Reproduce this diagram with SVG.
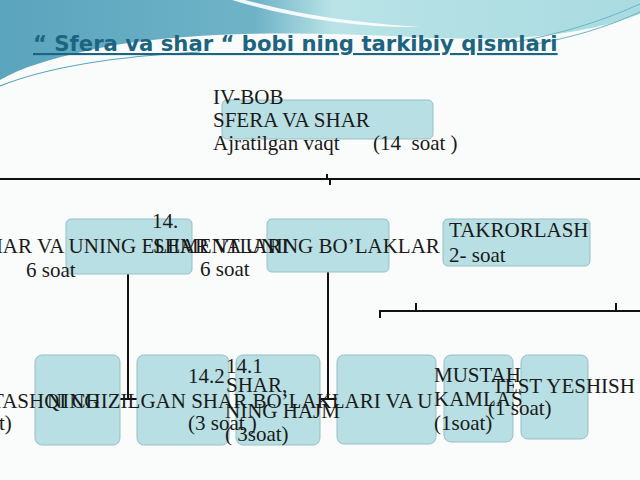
<svg xmlns="http://www.w3.org/2000/svg" width="640" height="480" viewBox="0 0 640 480">
<defs>
<linearGradient id="sky" x1="0" y1="0" x2="1" y2="0">
<stop offset="0" stop-color="#5aa4bd"/>
<stop offset="0.4" stop-color="#6fb3c7"/>
<stop offset="0.52" stop-color="#b9e3e7"/>
<stop offset="1" stop-color="#a9dbe0"/>
</linearGradient>
</defs>
<style>
.node{fill:#b8dfe3;stroke:#97bfc4;stroke-width:1}
.t{font-family:"Liberation Serif","Times New Roman",serif;font-size:21px;fill:#1a1a1a}
.title{font-family:"DejaVu Sans",Verdana,sans-serif;font-weight:bold;font-size:21.2px;fill:#1c6480;text-decoration:underline}
.c{fill:none;stroke:#111;stroke-width:2}
</style>
<rect x="0" y="0" width="640" height="480" fill="#fafcfc"/>
<path d="M0,0 H640 V14 C560,44 470,40 390,36 C290,31 170,32 90,50 C50,59 20,68 0,80 Z" fill="url(#sky)"/>
<path d="M245,0 C290,12 340,22 420,27 C360,28 290,18 232,0 Z" fill="#ffffff" opacity="0.9"/>
<path d="M0,86 C50,66 120,56 200,52" fill="none" stroke="#5aa4bd" stroke-width="1.2"/>
<path d="M640,4 C600,22 560,34 515,42 M640,12 C605,28 570,38 530,45" fill="none" stroke="#6db4c7" stroke-width="1"/>
<text class="title" x="33" y="51">“ Sfera va shar “ bobi ning tarkibiy qismlari</text>

<g id="connectors">
<path class="c" d="M0,179 H640 M327,174 V179 M330,179 V185"/>
<path class="c" d="M128,274 V399 M120,399 H137"/>
<path class="c" d="M328,272 V399 M320,399 H337"/>
<path class="c" d="M380,318 V311 H640 M416,303 V311 M616,303 V311"/>
</g>

<g id="node-top"><rect class="node" x="222" y="100" width="211" height="39" rx="5"/></g>
<g id="node-elementlari"><rect class="node" x="66" y="219" width="126" height="55" rx="5"/></g>
<g id="node-bolaklari"><rect class="node" x="267" y="219" width="122" height="53" rx="5"/></g>
<g id="node-takrorlash"><rect class="node" x="443" y="219" width="147" height="47" rx="5"/></g>
<g id="node-b1"><rect class="node" x="35" y="355" width="85" height="90" rx="7"/></g>
<g id="node-b2"><rect class="node" x="137" y="355" width="92" height="90" rx="7"/></g>
<g id="node-b3"><rect class="node" x="236" y="355" width="84" height="90" rx="7"/></g>
<g id="node-b4"><rect class="node" x="337" y="355" width="99" height="89" rx="7"/></g>
<g id="node-b5"><rect class="node" x="444" y="355" width="69" height="87" rx="7"/></g>
<g id="node-b6"><rect class="node" x="521" y="355" width="67" height="84" rx="7"/></g>

<g id="labels">
<g id="label-top">
<text class="t" x="213" y="104">IV-BOB</text>
<text class="t" x="213" y="127">SFERA VA SHAR</text>
<text class="t" x="213" y="150">Ajratilgan vaqt</text>
<text class="t" x="373" y="150" xml:space="preserve">(14  soat )</text>
</g>
<g id="label-elementlari">
<text class="t" x="-24" y="253">SHAR VA UNING ELEMENTLARI</text>
<text class="t" x="26" y="277">6 soat</text>
</g>
<g id="label-bolaklari">
<text class="t" x="152" y="228">14.</text>
<text class="t" x="153" y="253">SHAR VA UNING BO’LAKLAR</text>
<text class="t" x="200" y="276">6 soat</text>
</g>
<g id="label-takrorlash">
<text class="t" x="449" y="237">TAKRORLASH</text>
<text class="t" x="449" y="262">2- soat</text>
</g>
<g id="label-b1">
<text class="t" x="-9" y="408">TASHQI CHIZILGAN SHAR BO’LAKLARI VA U</text>
<text class="t" x="47" y="408">NING</text>
<text class="t" x="-1" y="430">t)</text>
</g>
<g id="label-b2">
<text class="t" x="188" y="383">14.2</text>
<text class="t" x="188" y="430">(3 soat )</text>
</g>
<g id="label-b3">
<text class="t" x="226" y="373">14.1</text>
<text class="t" x="226" y="392">SHAR,</text>
<text class="t" x="225" y="418">NING HAJM</text>
<text class="t" x="225" y="441">( 3soat)</text>
</g>
<g id="label-b5">
<text class="t" x="434" y="382">MUSTAH</text>
<text class="t" x="434" y="406">KAMLAS</text>
<text class="t" x="434" y="430">(1soat)</text>
</g>
<g id="label-b6">
<text class="t" x="492" y="393">TEST YESHISH</text>
<text class="t" x="488" y="415">(1 soat)</text>
</g>
</g>
</svg>
